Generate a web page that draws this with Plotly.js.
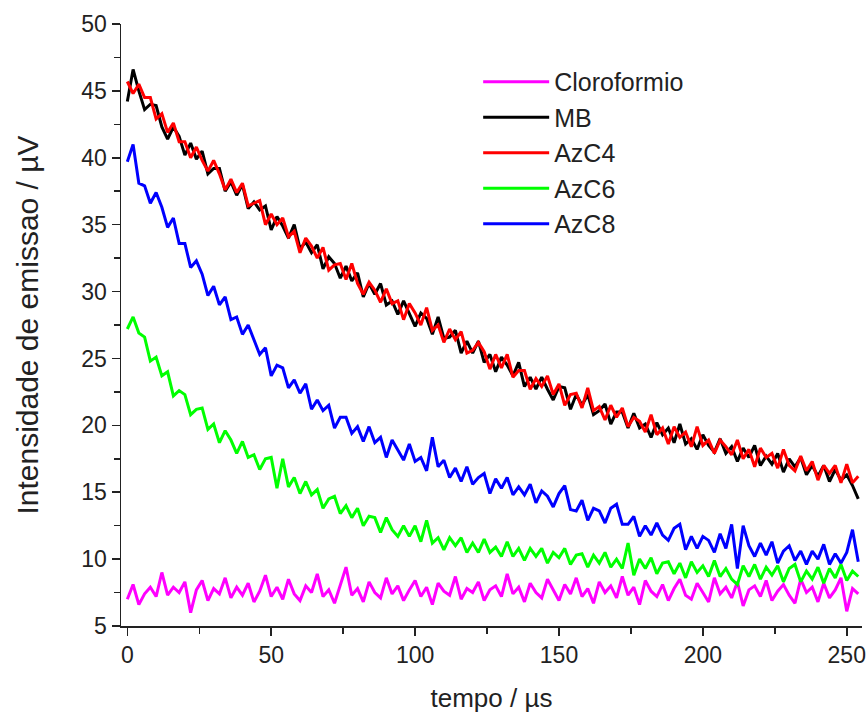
<!DOCTYPE html>
<html>
<head>
<meta charset="utf-8">
<script src="https://cdn.plot.ly/plotly-3.0.1.min.js"></script>
<style>html,body{margin:0;padding:0;background:#fff;}</style>
</head>
<body>
<div id="chart" style="width:866px;height:713px;"></div>
<script>
// time axis (µs)
const tempo = [0,2,4,6,8,10,12,14,16,18,20,22,24,26,28,30,32,34,36,38,40,42,44,46,48,50,52,54,56,58,60,62,64,66,68,70,72,74,76,78,80,82,84,86,88,90,92,94,96,98,100,102,104,106,108,110,112,114,116,118,120,122,124,126,128,130,132,134,136,138,140,142,144,146,148,150,152,154,156,158,160,162,164,166,168,170,172,174,176,178,180,182,184,186,188,190,192,194,196,198,200,202,204,206,208,210,212,214,216,218,220,222,224,226,228,230,232,234,236,238,240,242,244,246,248,250,252,254];

const cloroformio = [7.0,8.1,6.6,7.4,7.9,7.2,9.0,7.3,7.9,7.5,
8.3,6.0,7.7,8.4,6.9,7.8,7.4,8.6,7.1,7.9,
7.3,8.2,6.8,7.6,8.8,7.2,7.9,7.0,8.5,7.4,
6.9,8.0,7.5,8.9,7.2,7.7,6.7,8.1,9.4,7.3,
7.8,6.8,8.3,7.5,7.1,8.6,7.4,8.0,6.9,7.7,
8.4,7.2,7.9,6.6,8.2,7.6,7.3,8.7,7.0,7.8,
7.5,8.3,6.9,7.7,8.0,7.2,8.9,7.4,7.9,6.8,
8.2,7.5,7.1,8.5,7.7,6.9,8.1,7.4,8.6,7.2,
7.8,6.7,8.3,7.5,8.0,7.1,8.7,7.3,7.9,6.6,
8.4,7.6,7.2,8.1,6.9,7.8,8.5,7.3,7.0,8.2,
7.5,6.8,8.6,7.4,7.9,7.1,8.3,6.5,7.7,8.0,
7.2,8.4,6.9,7.6,8.1,7.3,6.7,8.5,7.5,7.9,
6.8,8.2,7.1,7.7,8.6,6.1,7.8,7.4];

const mb = [44.2,46.6,45.0,43.6,44.0,43.9,42.3,41.4,42.3,41.6,
40.2,41.1,39.9,40.5,38.8,39.2,39.2,37.5,38.2,37.2,
38.0,36.2,36.7,36.1,36.4,34.6,35.6,34.9,34.0,35.0,
33.2,33.7,32.9,33.5,31.7,32.6,32.1,31.0,31.9,30.8,
31.4,29.6,30.6,29.8,30.6,29.0,29.3,28.3,29.3,28.3,
27.4,28.4,28.0,26.8,28.1,26.5,26.6,27.1,25.4,26.3,
25.4,26.3,24.7,25.3,24.0,25.1,24.5,23.7,24.7,22.9,
23.6,22.7,23.6,22.7,21.9,22.9,22.8,21.2,22.3,21.5,
22.3,20.8,21.1,21.6,20.1,21.0,21.0,19.8,20.9,19.8,
20.1,19.1,20.2,19.3,19.8,18.7,20.1,18.6,19.0,18.2,
19.3,18.5,18.0,19.0,17.9,18.4,17.3,18.3,17.6,18.5,
17.0,17.7,17.1,17.9,16.5,17.5,16.9,17.6,16.3,17.0,
16.2,17.0,15.8,16.7,15.9,16.3,15.5,14.5];

const azc4 = [45.7,44.8,45.5,44.5,44.5,42.9,43.3,41.9,42.6,41.2,
41.2,40.0,40.8,39.8,39.0,39.8,38.8,37.6,38.4,37.4,
38.1,36.4,36.6,36.8,35.0,35.8,35.0,35.5,34.1,34.5,
32.9,34.0,33.4,32.5,33.3,31.6,32.0,32.1,30.9,32.1,
30.6,29.8,30.7,30.1,29.2,30.2,29.1,29.3,27.9,29.1,
28.4,27.5,28.8,27.1,27.5,26.2,27.2,26.4,27.0,25.4,
25.6,26.2,25.5,24.2,25.3,24.3,25.3,23.6,24.1,24.1,
22.7,23.5,22.9,23.7,22.3,23.1,21.5,22.3,22.4,21.3,
22.8,21.1,21.4,20.4,21.5,20.6,21.3,19.9,20.6,20.3,
19.5,20.8,19.3,19.8,18.6,19.9,19.1,19.5,18.4,19.9,
18.5,18.9,17.9,18.9,18.4,17.8,18.9,17.5,18.2,16.9,
18.3,17.6,17.9,16.8,18.2,17.0,16.6,17.7,16.6,17.3,
15.9,17.0,16.4,17.0,15.7,17.1,15.7,16.2];

const azc6 = [27.2,28.1,26.9,26.6,24.8,25.1,23.7,24.0,22.2,22.6,
22.3,20.8,21.2,21.3,19.7,20.1,18.7,19.6,18.9,17.9,
18.8,17.6,17.8,16.7,17.5,17.6,15.3,17.5,15.4,16.1,
14.9,15.8,14.8,15.2,13.8,14.5,14.7,13.4,14.0,13.1,
13.8,12.5,13.2,13.1,12.0,13.1,12.2,11.7,12.5,11.7,
12.5,11.3,12.9,11.2,11.6,10.7,11.6,11.0,11.6,10.5,
11.2,10.5,11.5,10.5,10.9,10.2,11.3,10.2,10.8,9.9,
10.8,10.2,10.8,9.7,10.5,10.1,10.8,9.6,10.3,10.4,
9.4,10.3,9.7,10.5,9.4,10.0,9.3,11.2,8.8,10.0,
9.3,10.1,8.9,9.7,9.8,8.9,9.7,8.6,9.8,9.0,
9.5,8.7,9.9,8.7,9.3,8.5,8.1,9.5,8.7,9.6,
8.5,9.4,8.8,9.5,8.3,9.3,9.6,8.3,9.1,8.5,
9.4,8.2,9.3,8.6,9.6,8.4,9.1,8.7];

const azc8 = [39.7,41.0,38.1,37.9,36.6,37.4,36.3,34.8,35.5,33.6,
33.6,31.8,32.3,31.3,29.7,30.4,29.0,29.6,27.9,28.1,
26.8,27.5,26.4,25.3,25.8,23.7,24.5,24.3,22.8,23.4,
22.4,23.1,21.2,21.9,21.1,21.5,19.8,20.6,20.6,19.4,
19.9,18.8,19.9,18.7,19.1,17.6,18.9,18.1,17.4,18.6,
17.3,17.6,16.6,19.1,16.9,17.4,16.1,16.8,15.8,16.9,
15.6,16.1,16.4,14.9,16.0,15.3,16.1,14.8,15.4,14.8,
15.6,14.2,15.1,14.7,13.9,14.9,15.5,13.7,13.6,14.4,
12.9,13.8,13.6,12.7,13.8,14.1,12.6,12.6,13.2,11.7,
12.5,11.8,12.7,11.8,11.4,12.3,12.6,10.7,11.7,10.8,
11.7,11.4,10.5,11.9,10.8,12.6,9.3,12.5,11.0,10.2,
11.2,10.3,11.3,9.7,10.6,11.0,9.9,10.6,9.6,10.6,
10.0,11.1,9.6,10.4,9.7,10.5,12.2,9.8];

const seriesNames = ['Cloroformio','MB','AzC4','AzC6','AzC8'];
const seriesData = [cloroformio, mb, azc4, azc6, azc8];
const seriesColors = ['#ff00ff','#000000','#ff0000','#00ff00','#0000ff'];

const xTicks = [0,50,100,150,200,250];
const yTicks = [5,10,15,20,25,30,35,40,45,50];

const traces = seriesNames.map((n,i)=>({
  x: tempo, y: seriesData[i], name: n, type:'scatter', mode:'lines',
  line:{color:seriesColors[i], width:3}
}));

const axisFont = {family:'Liberation Sans, Arial, sans-serif', size:23, color:'#222'};

const layout = {
  width:866, height:713,
  margin:{l:121, r:4, t:24, b:87},
  paper_bgcolor:'#fff', plot_bgcolor:'#fff',
  showlegend:true,
  legend:{x:0.482, y:0.942, xanchor:'left', yanchor:'top', font:{family:'Liberation Sans, Arial, sans-serif', size:25, color:'#222'},
          bgcolor:'rgba(0,0,0,0)', itemwidth:66, tracegroupgap:0},
  xaxis:{range:[-2.2,255.3], tickvals:xTicks, ticks:'outside', ticklen:8, tickwidth:1.5, tickcolor:'#222',
         showline:true, linecolor:'#222', linewidth:1.5, showgrid:false, zeroline:false, mirror:false,
         tickfont:axisFont,
         minor:{dtick:25, tick0:0, ticks:'outside', ticklen:6, tickwidth:1.5, tickcolor:'#222', showgrid:false},
         title:{text:'tempo / µs', font:{family:'Liberation Sans, Arial, sans-serif', size:26, color:'#222'}, standoff:24}},
  yaxis:{range:[5,50], tickvals:yTicks, ticks:'outside', ticklen:8, tickwidth:1.5, tickcolor:'#222',
         showline:true, linecolor:'#222', linewidth:1.5, showgrid:false, zeroline:false, mirror:false,
         tickfont:axisFont,
         minor:{dtick:2.5, tick0:5, ticks:'outside', ticklen:6, tickwidth:1.5, tickcolor:'#222', showgrid:false},
         title:{text:'Intensidade de emissao / µV', font:{family:'Liberation Sans, Arial, sans-serif', size:30, color:'#222'}, standoff:34}}
};

Plotly.newPlot('chart', traces, layout, {staticPlot:true, displayModeBar:false});
</script>
</body>
</html>
